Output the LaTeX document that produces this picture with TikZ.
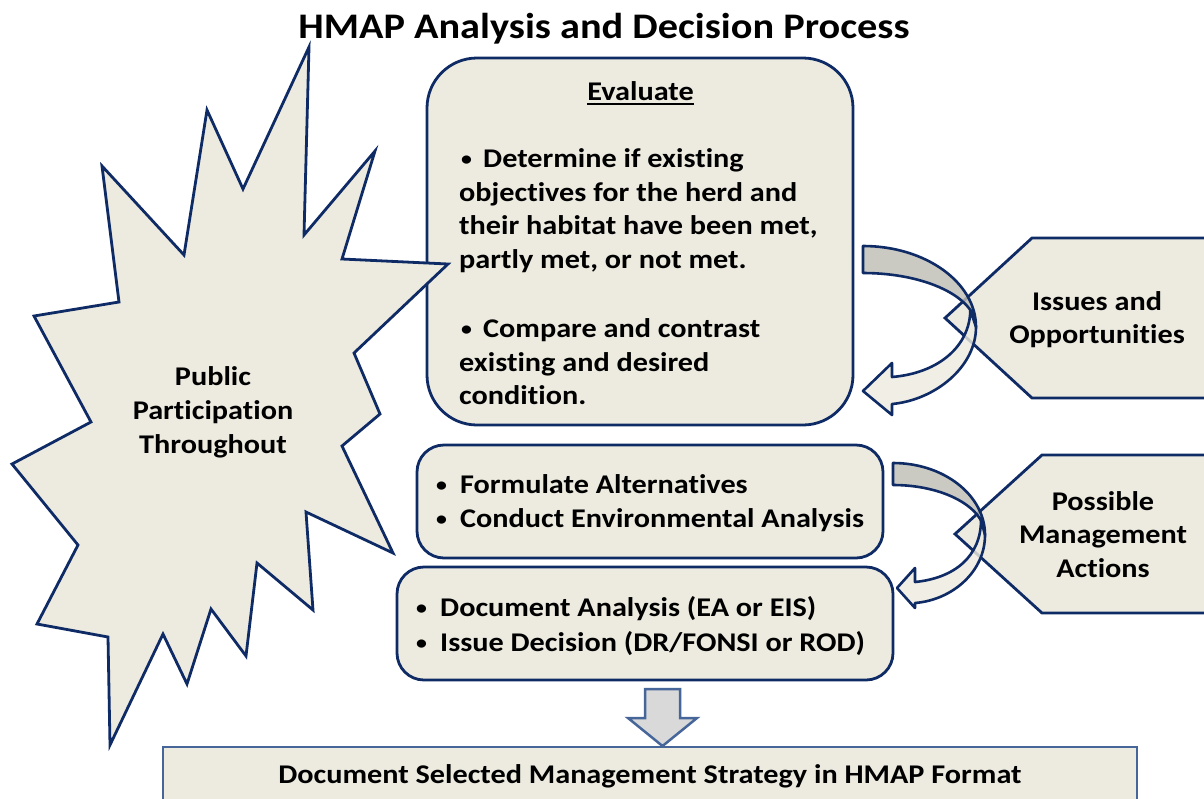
\documentclass[tikz,border=0pt]{standalone}
\usepackage{fontspec}
\usepackage{graphicx}
\setmainfont{Carlito}[FakeStretch=1.12, Ligatures=NoCommon]
\usetikzlibrary{calc}
\definecolor{beige}{HTML}{EDEBE0}
\definecolor{navy}{HTML}{0F2B66}
\definecolor{bandgray}{HTML}{BFBFB6}
\definecolor{steel}{HTML}{46669A}
\definecolor{lgray}{HTML}{D9D9D9}
\newcommand{\mybul}[1]{\makebox[#1][l]{\hspace{2pt}\raisebox{2pt}{\scalebox{0.72}{\textbullet}}}}
\begin{document}
\begin{tikzpicture}[x=1pt,y=-1pt,
  shapeline/.style={draw=navy, line width=2.8pt, line join=miter},
  fillbox/.style={shapeline, fill=beige},
  band/.style={draw=navy, line width=2.6pt, line join=round, fill opacity=0.82},
  txt/.style={inner sep=0pt, font=\bfseries\fontsize{27}{34}\selectfont, text=black},
  ctr/.style={txt, anchor=base},
  lft/.style={txt, anchor=base west}]
\useasboundingbox (0,0) rectangle (1204,798);
\fill[white] (0,0) rectangle (1204,798);
\begin{scope}
\clip (0,0) rectangle (1204,798);

% title
\node[txt, anchor=base, font=\bfseries\fontsize{36}{40}\selectfont] (title) at (604,38) {HMAP Analysis and Decision Process};

% evaluate box
\node[fillbox, rounded corners=50pt, minimum width=426pt, minimum height=367pt, inner sep=0pt] (eval) at (640,241.5) {};
\node[ctr] (evt) at (640.5,100) {Evaluate};
\draw[line width=1.6pt] ($(evt.base west)+(0,4)$) -- ($(evt.base east)+(0,4)$);
\node[lft] (e1) at (459,167) {\mybul{24pt}Determine if existing};
\node[lft] (e2) at (459,201) {objectives for the herd and};
\node[lft] (e3) at (459,234) {their habitat have been met,};
\node[lft] (e4) at (459,268) {partly met, or not met.};
\node[lft] (e5) at (459,337) {\mybul{24pt}Compare and contrast};
\node[lft] (e6) at (459,371) {existing and desired};
\node[lft] (e7) at (459,404) {condition.};

% star
\draw[fillbox] (309,47) -- (243,189) -- (207,110) -- (184,255) -- (102,166) -- (119,302)
  -- (34,316) -- (91,422) -- (12,464) -- (78,545) -- (37,624) -- (108,637) -- (110,745)
  -- (163,634) -- (187,684) -- (211,609) -- (246,656) -- (257,563) -- (313,610) -- (306,512)
  -- (393,553) -- (342,446) -- (380,414) -- (354,353) -- (448,264) -- (342,259) -- (375,151)
  -- (304,235) -- cycle;
\node[ctr] (pp1) at (213,385) {Public};
\node[ctr] (pp2) at (213,419) {Participation};
\node[ctr] (pp3) at (213,453) {Throughout};

% hexagon tags
\draw[fillbox] (1215,238) -- (1032,238) -- (945,318) -- (1032,398) -- (1215,398) -- cycle;
\node[ctr] (io1) at (1097,310) {Issues and};
\node[ctr] (io2) at (1097,343) {Opportunities};
\draw[fillbox] (1215,455) -- (1042,455) -- (955,534) -- (1042,613) -- (1215,613) -- cycle;
\node[ctr] (pm1) at (1103,510) {Possible};
\node[ctr] (pm2) at (1103,543) {Management};
\node[ctr] (pm3) at (1103,577) {Actions};

% curved arrow 1
\draw[band, fill=beige] (976,327) .. controls (976,367) and (935,400) .. (892,404)
  -- (892,415) -- (863,391) -- (892,363) -- (892,377)
  .. controls (940,373) and (970,345) .. (970.3,310) -- cycle;
\draw[band, fill=bandgray] (863,246) .. controls (925.4,246) and (976,282.3) .. (976,327)
  .. controls (976,297.2) and (925.4,273) .. (863,273) -- cycle;

% curved arrow 2
\draw[band, fill=beige] (985,535) .. controls (985,572) and (952,600) .. (915,603)
  -- (915,608) -- (897,588) -- (915,568) -- (915,582)
  .. controls (955,578) and (981,556) .. (981,520) -- cycle;
\draw[band, fill=bandgray] (893,463) .. controls (943.8,463) and (985,495.2) .. (985,535)
  .. controls (985,507.4) and (943.8,485) .. (893,485) -- cycle;

% action boxes
\node[fillbox, rounded corners=27pt, minimum width=466pt, minimum height=113pt, inner sep=0pt] (alt) at (650,501.5) {};
\node[lft] (a1) at (434,493) {\mybul{26pt}Formulate Alternatives};
\node[lft] (a2) at (434,527) {\mybul{26pt}Conduct Environmental Analysis};
\node[fillbox, rounded corners=27pt, minimum width=496pt, minimum height=113pt, inner sep=0pt] (doc) at (645,623.5) {};
\node[lft] (d1) at (414,616) {\mybul{26pt}Document Analysis (EA or EIS)};
\node[lft] (d2) at (414,651) {\mybul{26pt}Issue Decision (DR/FONSI or ROD)};

% down arrow and final box
\node[draw=steel, line width=2.8pt, fill=beige, minimum width=974pt, minimum height=70pt, inner sep=0pt] (final) at (650,782) {};
\node[ctr] (ft) at (650,783) {Document Selected Management Strategy in HMAP Format};
\draw[draw=steel, line width=2.5pt, fill=lgray, line join=miter] (645,689) -- (680,689) -- (680,718) -- (697,718)
  -- (662.5,746) -- (628,718) -- (645,718) -- cycle;
\end{scope}
\end{tikzpicture}
\end{document}
